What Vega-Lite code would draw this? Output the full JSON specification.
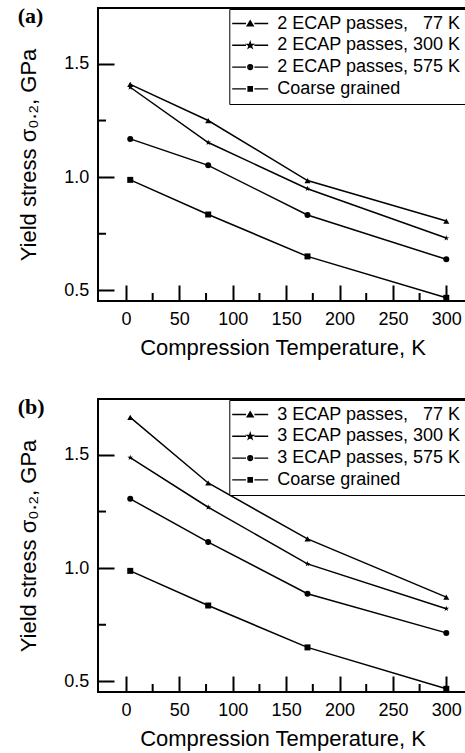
{
  "$schema": "https://vega.github.io/schema/vega-lite/v6.json",
  "padding": {"left": 16, "top": 4, "right": 0, "bottom": 0},
  "spacing": 35,
  "resolve": {"scale": {"shape": "independent"}, "legend": {"shape": "independent"}},
  "datasets": {
    "a": [
      {"series": "2 ECAP passes, \u200777 K", "T": 4, "S": 1.41},
      {"series": "2 ECAP passes, \u200777 K", "T": 77, "S": 1.25},
      {"series": "2 ECAP passes, \u200777 K", "T": 170, "S": 0.985},
      {"series": "2 ECAP passes, \u200777 K", "T": 300, "S": 0.806},
      {"series": "2 ECAP passes, 300 K", "T": 4, "S": 1.397},
      {"series": "2 ECAP passes, 300 K", "T": 77, "S": 1.153},
      {"series": "2 ECAP passes, 300 K", "T": 170, "S": 0.949},
      {"series": "2 ECAP passes, 300 K", "T": 300, "S": 0.731},
      {"series": "2 ECAP passes, 575 K", "T": 4, "S": 1.169},
      {"series": "2 ECAP passes, 575 K", "T": 77, "S": 1.052},
      {"series": "2 ECAP passes, 575 K", "T": 170, "S": 0.833},
      {"series": "2 ECAP passes, 575 K", "T": 300, "S": 0.637},
      {"series": "Coarse grained", "T": 4, "S": 0.988},
      {"series": "Coarse grained", "T": 77, "S": 0.835},
      {"series": "Coarse grained", "T": 170, "S": 0.65},
      {"series": "Coarse grained", "T": 300, "S": 0.467}
    ],
    "b": [
      {"series": "3 ECAP passes, \u200777 K", "T": 4, "S": 1.666},
      {"series": "3 ECAP passes, \u200777 K", "T": 77, "S": 1.376},
      {"series": "3 ECAP passes, \u200777 K", "T": 170, "S": 1.129},
      {"series": "3 ECAP passes, \u200777 K", "T": 300, "S": 0.872},
      {"series": "3 ECAP passes, 300 K", "T": 4, "S": 1.488},
      {"series": "3 ECAP passes, 300 K", "T": 77, "S": 1.269},
      {"series": "3 ECAP passes, 300 K", "T": 170, "S": 1.019},
      {"series": "3 ECAP passes, 300 K", "T": 300, "S": 0.821},
      {"series": "3 ECAP passes, 575 K", "T": 4, "S": 1.306},
      {"series": "3 ECAP passes, 575 K", "T": 77, "S": 1.115},
      {"series": "3 ECAP passes, 575 K", "T": 170, "S": 0.887},
      {"series": "3 ECAP passes, 575 K", "T": 300, "S": 0.714},
      {"series": "Coarse grained", "T": 4, "S": 0.988},
      {"series": "Coarse grained", "T": 77, "S": 0.835},
      {"series": "Coarse grained", "T": 170, "S": 0.65},
      {"series": "Coarse grained", "T": 300, "S": 0.467}
    ],
    "xminor": [{"T": 25}, {"T": 75}, {"T": 125}, {"T": 175}, {"T": 225}, {"T": 275}],
    "yminor": [{"S": 0.75}, {"S": 1.25}]
  },
  "vconcat": [
    {
      "title": {"text": "(a)", "anchor": "start", "frame": "bounds", "font": "Liberation Serif", "fontSize": 22, "fontWeight": "bold", "color": "black", "offset": 0, "dy": 37, "baseline": "alphabetic"},
      "width": 369,
      "height": 293,
      "data": {"name": "a"},
      "layer": [
        {
          "mark": {"type": "line", "color": "black", "strokeWidth": 1.5},
          "encoding": {
            "x": {"field": "T", "type": "quantitative", "scale": {"domain": [-26.2, 319.4], "nice": false, "zero": false},
                  "axis": {"values": [0, 50, 100, 150, 200, 250, 300], "ticks": true, "tickSize": 16, "tickColor": "black", "tickWidth": 2, "offset": -16, "domain": false, "labelPadding": 9.5, "title": "Compression Temperature, K", "titlePadding": 9}},
            "y": {"field": "S", "type": "quantitative", "scale": {"domain": [0.453, 1.747], "nice": false, "zero": false},
                  "axis": {"values": [0.5, 1.0, 1.5], "format": ".1f", "ticks": true, "tickSize": 16, "tickColor": "black", "tickWidth": 2, "offset": -16, "domain": false, "labelPadding": 9.3, "title": "Yield stress σ₀.₂, GPa", "titlePadding": 23}},
            "detail": {"field": "series", "type": "nominal"}
          }
        },
        {
          "mark": {"type": "point", "filled": false, "color": "black", "opacity": 0, "size": 36},
          "encoding": {
            "x": {"field": "T", "type": "quantitative"},
            "y": {"field": "S", "type": "quantitative"},
            "shape": {"field": "series", "type": "nominal",
              "scale": {"domain": ["2 ECAP passes, \u200777 K", "2 ECAP passes, 300 K", "2 ECAP passes, 575 K", "Coarse grained"],
                        "range": ["M-6,0H-1.4M1.4,0H6M0,-0.9L1,0.8L-1,0.8ZM0,-0.3L0.4,0.5L-0.4,0.5Z", "M-6,0H-1.4M1.4,0H6M0,-1L0.225,-0.309L0.951,-0.309L0.363,0.118L0.588,0.809L0,0.382L-0.588,0.809L-0.363,0.118L-0.951,-0.309L-0.225,-0.309ZM0,-0.3L0.3,0.2L-0.3,0.2Z", "M-6,0H-1.4M1.4,0H6M0.8,0A0.8,0.8,0,1,1,-0.8,0A0.8,0.8,0,1,1,0.8,0ZM0.3,0A0.3,0.3,0,1,1,-0.3,0A0.3,0.3,0,1,1,0.3,0Z", "M-6,0H-1.4M1.4,0H6M-0.7,-0.7H0.7V0.7H-0.7ZM-0.25,-0.25H0.25V0.25H-0.25Z"]},
              "legend": {"title": null, "orient": "none", "legendX": 131.3, "legendY": 1, "strokeColor": "black", "fillColor": "white", "padding": 5.5,
                "labelFont": "Liberation Sans", "labelFontSize": 18, "labelColor": "black", "labelLimit": 0, "symbolSize": 36, "symbolOffset": 6.4, "labelOffset": 18, "rowPadding": 3.8,
                "symbolOpacity": 1, "symbolStrokeColor": "black", "symbolStrokeWidth": 1.4}
            }
          }
        },
        {
          "mark": {"type": "point", "filled": true, "color": "black", "size": 36, "opacity": 1},
          "encoding": {
            "x": {"field": "T", "type": "quantitative"},
            "y": {"field": "S", "type": "quantitative"},
            "shape": {"field": "series", "type": "nominal",
              "scale": {"domain": ["2 ECAP passes, \u200777 K", "2 ECAP passes, 300 K", "2 ECAP passes, 575 K", "Coarse grained"],
                        "range": ["triangle-up", "M0,-1L0.225,-0.309L0.951,-0.309L0.363,0.118L0.588,0.809L0,0.382L-0.588,0.809L-0.363,0.118L-0.951,-0.309L-0.225,-0.309Z", "circle", "square"]},
              "legend": null
            }
          }
        },
        {
          "data": {"name": "xminor"},
          "mark": {"type": "rule", "color": "black", "strokeWidth": 2},
          "encoding": {"x": {"field": "T", "type": "quantitative"}, "y": {"datum": 0.453, "type": "quantitative"}, "y2": {"datum": 0.4883}}
        },
        {
          "data": {"name": "yminor"},
          "mark": {"type": "rule", "color": "black", "strokeWidth": 2},
          "encoding": {"y": {"field": "S", "type": "quantitative"}, "x": {"datum": -26.2, "type": "quantitative"}, "x2": {"datum": -18.7}}
        }
      ],
      "resolve": {"scale": {"shape": "independent"}, "legend": {"shape": "independent"}}
    },
    {
      "title": {"text": "(b)", "anchor": "start", "frame": "bounds", "font": "Liberation Serif", "fontSize": 22, "fontWeight": "bold", "color": "black", "offset": 0, "dy": 37, "baseline": "alphabetic"},
      "width": 369,
      "height": 293,
      "data": {"name": "b"},
      "layer": [
        {
          "mark": {"type": "line", "color": "black", "strokeWidth": 1.5},
          "encoding": {
            "x": {"field": "T", "type": "quantitative", "scale": {"domain": [-26.2, 319.4], "nice": false, "zero": false},
                  "axis": {"values": [0, 50, 100, 150, 200, 250, 300], "ticks": true, "tickSize": 16, "tickColor": "black", "tickWidth": 2, "offset": -16, "domain": false, "labelPadding": 9.5, "title": "Compression Temperature, K", "titlePadding": 9}},
            "y": {"field": "S", "type": "quantitative", "scale": {"domain": [0.453, 1.747], "nice": false, "zero": false},
                  "axis": {"values": [0.5, 1.0, 1.5], "format": ".1f", "ticks": true, "tickSize": 16, "tickColor": "black", "tickWidth": 2, "offset": -16, "domain": false, "labelPadding": 9.3, "title": "Yield stress σ₀.₂, GPa", "titlePadding": 23}},
            "detail": {"field": "series", "type": "nominal"}
          }
        },
        {
          "mark": {"type": "point", "filled": false, "color": "black", "opacity": 0, "size": 36},
          "encoding": {
            "x": {"field": "T", "type": "quantitative"},
            "y": {"field": "S", "type": "quantitative"},
            "shape": {"field": "series", "type": "nominal",
              "scale": {"domain": ["3 ECAP passes, \u200777 K", "3 ECAP passes, 300 K", "3 ECAP passes, 575 K", "Coarse grained"],
                        "range": ["M-6,0H-1.4M1.4,0H6M0,-0.9L1,0.8L-1,0.8ZM0,-0.3L0.4,0.5L-0.4,0.5Z", "M-6,0H-1.4M1.4,0H6M0,-1L0.225,-0.309L0.951,-0.309L0.363,0.118L0.588,0.809L0,0.382L-0.588,0.809L-0.363,0.118L-0.951,-0.309L-0.225,-0.309ZM0,-0.3L0.3,0.2L-0.3,0.2Z", "M-6,0H-1.4M1.4,0H6M0.8,0A0.8,0.8,0,1,1,-0.8,0A0.8,0.8,0,1,1,0.8,0ZM0.3,0A0.3,0.3,0,1,1,-0.3,0A0.3,0.3,0,1,1,0.3,0Z", "M-6,0H-1.4M1.4,0H6M-0.7,-0.7H0.7V0.7H-0.7ZM-0.25,-0.25H0.25V0.25H-0.25Z"]},
              "legend": {"title": null, "orient": "none", "legendX": 131.3, "legendY": 1, "strokeColor": "black", "fillColor": "white", "padding": 5.5,
                "labelFont": "Liberation Sans", "labelFontSize": 18, "labelColor": "black", "labelLimit": 0, "symbolSize": 36, "symbolOffset": 6.4, "labelOffset": 18, "rowPadding": 3.8,
                "symbolOpacity": 1, "symbolStrokeColor": "black", "symbolStrokeWidth": 1.4}
            }
          }
        },
        {
          "mark": {"type": "point", "filled": true, "color": "black", "size": 36, "opacity": 1},
          "encoding": {
            "x": {"field": "T", "type": "quantitative"},
            "y": {"field": "S", "type": "quantitative"},
            "shape": {"field": "series", "type": "nominal",
              "scale": {"domain": ["3 ECAP passes, \u200777 K", "3 ECAP passes, 300 K", "3 ECAP passes, 575 K", "Coarse grained"],
                        "range": ["triangle-up", "M0,-1L0.225,-0.309L0.951,-0.309L0.363,0.118L0.588,0.809L0,0.382L-0.588,0.809L-0.363,0.118L-0.951,-0.309L-0.225,-0.309Z", "circle", "square"]},
              "legend": null
            }
          }
        },
        {
          "data": {"name": "xminor"},
          "mark": {"type": "rule", "color": "black", "strokeWidth": 2},
          "encoding": {"x": {"field": "T", "type": "quantitative"}, "y": {"datum": 0.453, "type": "quantitative"}, "y2": {"datum": 0.4883}}
        },
        {
          "data": {"name": "yminor"},
          "mark": {"type": "rule", "color": "black", "strokeWidth": 2},
          "encoding": {"y": {"field": "S", "type": "quantitative"}, "x": {"datum": -26.2, "type": "quantitative"}, "x2": {"datum": -18.7}}
        }
      ],
      "resolve": {"scale": {"shape": "independent"}, "legend": {"shape": "independent"}}
    }
  ],
  "config": {
    "view": {"stroke": "black", "strokeWidth": 2},
    "font": "Liberation Sans",
    "axis": {"grid": false, "domainColor": "black", "domainWidth": 2, "tickColor": "black", "tickWidth": 2,
             "labelFont": "Liberation Sans", "labelFontSize": 18, "labelColor": "black",
             "titleFont": "Liberation Sans", "titleFontSize": 22, "titleFontWeight": "normal", "titleColor": "black"}
  }
}
